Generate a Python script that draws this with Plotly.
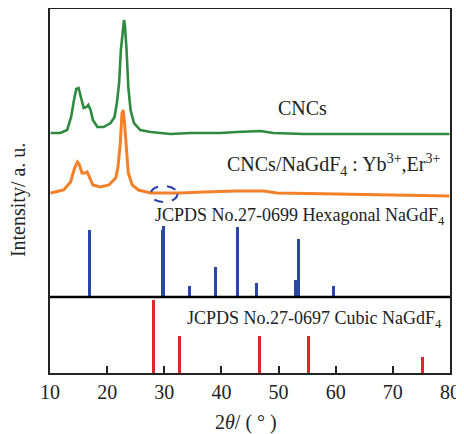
import plotly.graph_objects as go

# ---- data ----
cncs_angle = [10.1, 11.8, 13.0, 13.7, 14.2, 14.6, 15.0, 15.5, 15.9, 16.4, 16.7, 17.1, 17.5, 18.3,
              19.4, 20.6, 21.3, 21.7, 22.1, 22.4, 22.8, 22.95, 23.1, 23.4, 23.7, 24.1, 24.7, 25.8,
              27.6, 31.1, 34.6, 39.8, 42.7, 46.8, 49.1, 54.4, 66.0, 79.9]
cncs_int = [240, 240, 243, 256, 273, 284, 285, 275, 265, 266, 268, 263, 253, 246,
            246, 250, 256, 270, 290, 323, 350, 353, 348, 323, 286, 263, 250, 243,
            241, 239, 240, 240, 241, 242, 240, 239, 239, 239]

comp_angle = [10.1, 12.4, 13.6, 14.3, 14.8, 15.1, 15.6, 16.2, 16.5, 17.0, 17.5, 18.8, 20.3,
              21.5, 21.9, 22.3, 22.6, 22.8, 23.0, 23.4, 23.7, 24.4, 25.5, 27.6, 29.9, 32.8,
              36.9, 42.7, 47.4, 49.7, 60.2, 79.9]
comp_int = [180, 183, 191, 205, 211, 209, 200, 200, 201, 195, 188, 186, 188,
            195, 206, 230, 260, 263, 253, 223, 200, 188, 183, 180, 180, 180,
            181, 182, 182, 180, 179, 177]

hex_pos = [16.9, 29.6, 29.9, 34.4, 38.9, 42.8, 46.1, 52.9, 53.5, 59.6]
hex_int = [67, 67, 71, 11, 30, 70, 14, 17, 58, 11]
hex_base = 76

cub_pos = [28.1, 32.6, 46.6, 55.2, 75.2]
cub_int = [73, 37, 37, 37, 16]

x_ticks = [10, 20, 30, 40, 50, 60, 70, 80]

FONT = "Liberation Serif, Times New Roman, serif"
TXT = "#222"

fig = go.Figure()
fig.add_trace(go.Scatter(x=cncs_angle, y=cncs_int, mode="lines",
                         line=dict(color="#2e8a3e", width=2.6), showlegend=False))
fig.add_trace(go.Scatter(x=comp_angle, y=comp_int, mode="lines",
                         line=dict(color="#f3812a", width=3), showlegend=False))
fig.add_trace(go.Bar(x=hex_pos, y=hex_int, base=hex_base, width=0.5,
                     marker=dict(color="#2a47a6", line=dict(width=0)), showlegend=False))
fig.add_trace(go.Bar(x=cub_pos, y=cub_int, base=0, width=0.5,
                     marker=dict(color="#e0262b", line=dict(width=0)), showlegend=False))

# separator line
fig.add_shape(type="line", xref="paper", x0=0, x1=1, yref="y", y0=hex_base, y1=hex_base,
              line=dict(color="black", width=2.3))
# dashed ellipse
fig.add_shape(type="circle", xref="x", yref="y", x0=27.6, x1=32.3, y0=171, y1=187,
              line=dict(color="#2b3fa6", width=2, dash="dash"))

fig.add_annotation(x=54.2, y=265, xref="x", yref="y", text="CNCs", showarrow=False,
                   xanchor="center", yanchor="middle", font=dict(family=FONT, size=20, color=TXT))
fig.add_annotation(x=78.6, y=208, xref="x", yref="y",
                   text="CNCs/NaGdF<sub>4</sub> : Yb<sup>3+</sup>,Er<sup>3+</sup>", showarrow=False,
                   xanchor="right", yanchor="middle", font=dict(family=FONT, size=20, color=TXT))
fig.add_annotation(x=79.5, y=157, xref="x", yref="y",
                   text="JCPDS No.27-0699 Hexagonal NaGdF<sub>4</sub>", showarrow=False,
                   xanchor="right", yanchor="middle", font=dict(family=FONT, size=18, color=TXT))
fig.add_annotation(x=78.9, y=54, xref="x", yref="y",
                   text="JCPDS No.27-0697 Cubic NaGdF<sub>4</sub>", showarrow=False,
                   xanchor="right", yanchor="middle", font=dict(family=FONT, size=18, color=TXT))
# axis titles
fig.add_annotation(x=-0.08, y=0.475, xref="paper", yref="paper", text="Intensity/ a. u.",
                   textangle=-90, showarrow=False, xanchor="center", yanchor="middle",
                   font=dict(family=FONT, size=20, color=TXT))
fig.add_annotation(x=0.49, y=-0.135, xref="paper", yref="paper", text="2<i>θ</i>/ ( ° )",
                   showarrow=False, xanchor="center", yanchor="middle",
                   font=dict(family=FONT, size=20, color=TXT))

# the page body adds an 8px offset; margins compensate so the plot box sits at 50..450 x 9..373
fig.update_layout(
    width=456, height=426,
    margin=dict(l=42, r=14, t=1, b=61, autoexpand=False),
    paper_bgcolor="white", plot_bgcolor="white",
    barmode="overlay", bargap=0,
    font=dict(family=FONT, size=20, color=TXT),
)
fig.update_xaxes(range=[10, 80], tickvals=x_ticks, ticktext=[str(v) for v in x_ticks],
                 ticks="inside", ticklen=7, tickwidth=1.5, tickcolor=TXT,
                 showline=True, linecolor=TXT, linewidth=1.5, mirror=True,
                 showgrid=False, zeroline=False,
                 tickfont=dict(family=FONT, size=20, color=TXT))
fig.update_yaxes(range=[0, 364], showticklabels=False, ticks="",
                 showline=True, linecolor=TXT, linewidth=1.5, mirror=True,
                 showgrid=False, zeroline=False)

fig.write_html("out.html")
